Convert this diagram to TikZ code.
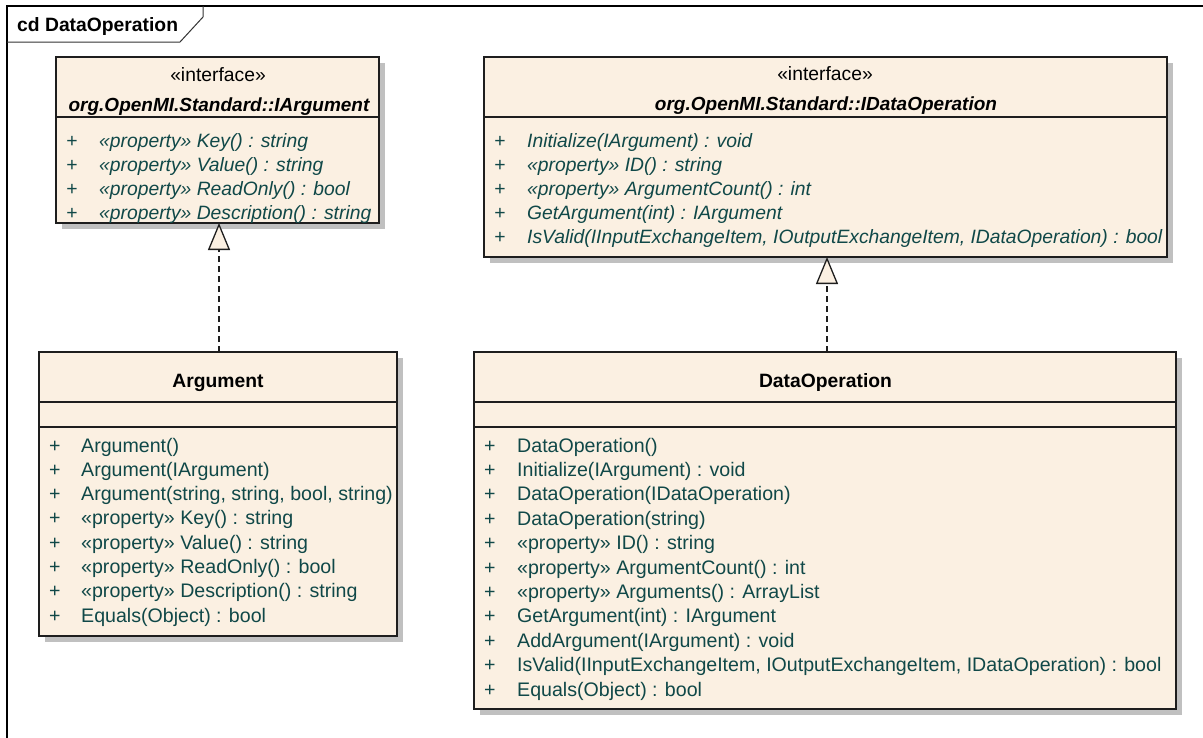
\documentclass[tikz,border=0pt]{standalone}
\usepackage{fontspec}
\setmainfont{Liberation Sans}
\usetikzlibrary{arrows.meta}
\definecolor{boxfill}{RGB}{251,240,226}
\definecolor{member}{RGB}{16,72,72}
\definecolor{shadowc}{RGB}{192,192,192}
\definecolor{edge}{RGB}{30,30,30}
\begin{document}
\begin{tikzpicture}[x=1pt,y=-1pt,
  classbox/.style={draw=edge, line width=1.6pt, fill=boxfill, anchor=north west, inner sep=0pt, outer sep=0pt},
  shadowbox/.style={fill=shadowc, draw=none, anchor=north west, inner sep=0pt, outer sep=0pt},
  sepline/.style={draw=edge, line width=1.3pt},
  txt/.style={anchor=base, inner sep=0pt, font=\fontsize{19.3}{23}\selectfont},
  boldtxt/.style={txt, font=\fontsize{19.3}{23}\selectfont\bfseries},
  bitxt/.style={txt, font=\fontsize{19}{23}\selectfont\bfseries\itshape},
  mem/.style={anchor=base west, inner sep=0pt, text=member, font=\fontsize{19.6}{23}\selectfont},
  imem/.style={mem, font=\fontsize{19.3}{23}\selectfont\itshape},
  realize/.style={draw=edge, line width=1.5pt, dash pattern=on 6pt off 4pt,
    -{Triangle[length=27pt,width=22pt,fill=boxfill,line width=1.3pt]}}
]
\useasboundingbox (0,0) rectangle (1203,737);
\fill[white] (0,0) rectangle (1203,737);

% frame
\draw[line width=1.4pt] (7,760) -- (7,6) -- (1220,6);
\draw[line width=1pt, draw=black!80] (7,42) -- (180,42) -- (203,17) -- (203,6);
\node[boldtxt, anchor=base west] (framelabel) at (17,31) {cd DataOperation};

% shadows
\node[shadowbox, minimum width=323pt, minimum height=166pt] (iargsh) at (62,63) {};
\node[shadowbox, minimum width=683pt, minimum height=200pt] (idopsh) at (490,63) {};
\node[shadowbox, minimum width=358pt, minimum height=284pt] (argsh) at (45,358) {};
\node[shadowbox, minimum width=702pt, minimum height=357pt] (dopsh) at (480,358) {};

% boxes
\node[classbox, minimum width=323pt, minimum height=166pt] (iarg) at (56,57) {};
\node[classbox, minimum width=683pt, minimum height=200pt] (idop) at (484,57) {};
\node[classbox, minimum width=358pt, minimum height=284pt] (arg) at (39,352) {};
\node[classbox, minimum width=702pt, minimum height=357pt] (dop) at (474,352) {};

% separators
\draw[sepline] (56,117) -- (379,117);
\draw[sepline] (484,117) -- (1167,117);
\draw[sepline] (39,402) -- (397,402);
\draw[sepline] (39,427) -- (397,427);
\draw[sepline] (474,402) -- (1176,402);
\draw[sepline] (474,427) -- (1176,427);

% headers
\node[txt] (iargst) at (218,81) {«interface»};
\node[bitxt] (iargname) at (219,111) {org.OpenMI.Standard::IArgument};
\node[txt] (idopst) at (825,80) {«interface»};
\node[bitxt] (idopname) at (826,110) {org.OpenMI.Standard::IDataOperation};
\node[boldtxt] (argname) at (218,387) {Argument};
\node[boldtxt] (dopname) at (825.5,387) {DataOperation};

% IArgument members
\foreach \t [count=\i] in {
  {«property» Key() : string},
  {«property» Value() : string},
  {«property» ReadOnly() : bool},
  {«property» Description() : string}}{
  \node[imem] (iargp\i) at (66,{147+24*(\i-1)}) {+};
  \node[imem] (iargm\i) at (99,{147+24*(\i-1)}) {\t};
}

% IDataOperation members
\foreach \t [count=\i] in {
  {Initialize(IArgument) : void},
  {«property» ID() : string},
  {«property» ArgumentCount() : int},
  {GetArgument(int) : IArgument},
  {IsValid(IInputExchangeItem, IOutputExchangeItem, IDataOperation) : bool}}{
  \node[imem] (idopp\i) at (494,{147+24*(\i-1)}) {+};
  \node[imem] (idopm\i) at (527,{147+24*(\i-1)}) {\t};
}

% Argument members
\foreach \t [count=\i] in {
  {Argument()},
  {Argument(IArgument)},
  {Argument(string, string, bool, string)},
  {«property» Key() : string},
  {«property» Value() : string},
  {«property» ReadOnly() : bool},
  {«property» Description() : string},
  {Equals(Object) : bool}}{
  \node[mem] (argp\i) at (49,{452+24.3*(\i-1)}) {+};
  \node[mem] (argm\i) at (81,{452+24.3*(\i-1)}) {\t};
}

% DataOperation members
\foreach \t [count=\i] in {
  {DataOperation()},
  {Initialize(IArgument) : void},
  {DataOperation(IDataOperation)},
  {DataOperation(string)},
  {«property» ID() : string},
  {«property» ArgumentCount() : int},
  {«property» Arguments() : ArrayList},
  {GetArgument(int) : IArgument},
  {AddArgument(IArgument) : void},
  {IsValid(IInputExchangeItem, IOutputExchangeItem, IDataOperation) : bool},
  {Equals(Object) : bool}}{
  \node[mem] (dopp\i) at (484,{452+24.4*(\i-1)}) {+};
  \node[mem] (dopm\i) at (517,{452+24.4*(\i-1)}) {\t};
}

% realizations
\draw[realize] (arg.north -| 219,0) -- (iarg.south -| 219,0);
\draw[realize] (dop.north -| 827,0) -- (idop.south -| 827,0);
\end{tikzpicture}
\end{document}
